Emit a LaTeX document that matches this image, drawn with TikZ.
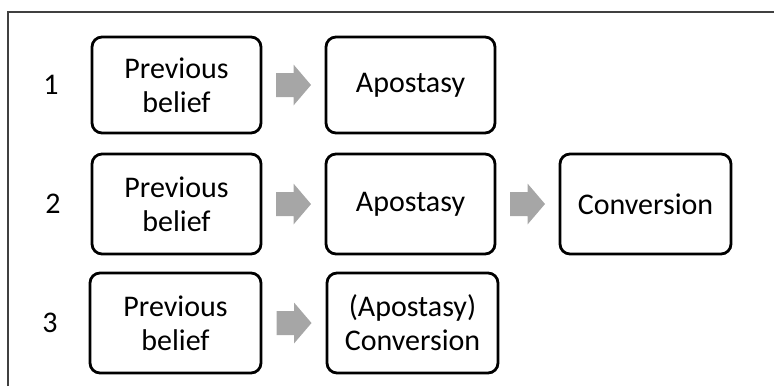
\documentclass[tikz,border=0pt]{standalone}
\usepackage{fontspec}
\setmainfont{Carlito}
\usetikzlibrary{calc}
\definecolor{framegray}{HTML}{404040}
\definecolor{arrowgray}{HTML}{A6A6A6}
\tikzset{
  stage/.style={draw=black, line width=2.8pt, rounded corners=10pt, fill=white,
    minimum width=169pt, align=center, inner sep=0pt,
    font=\fontsize{30}{34}\selectfont},
  rownum/.style={font=\fontsize{30}{34}\selectfont, inner sep=0pt},
  blockarrow/.pic={
    \fill[arrowgray] (-17.5,-12) -- (0,-12) -- (0,-20.5) -- (17.5,0)
      -- (0,20.5) -- (0,12) -- (-17.5,12) -- cycle;
  }
}
\begin{document}
\begin{tikzpicture}[x=1pt,y=-1pt]
\useasboundingbox (0,0) rectangle (774,386);
% open frame along the top and left edges
\draw[framegray, line width=2.2pt] (8,386) -- (8,12) -- (774,12);

% row 1
\node[rownum] (n1) at (51,85) {1};
\node[stage, minimum height=96pt] (a1) at (176.5,85) {Previous\\belief};
\node[stage, minimum height=96pt] (b1) at (410.5,85) {Apostasy};
\pic at ($(a1.east)!0.5!(b1.west)$) {blockarrow};

% row 2
\node[rownum] (n2) at (53,204) {2};
\node[stage, minimum height=100pt] (a2) at (176.5,204) {Previous\\belief};
\node[stage, minimum height=100pt] (b2) at (410.5,204) {Apostasy};
\node[stage, minimum height=100pt, minimum width=171pt] (c2) at (645.5,204) {Conversion};
\pic at ($(a2.east)!0.5!(b2.west)$) {blockarrow};
\pic at ($(b2.east)!0.5!(c2.west)$) {blockarrow};

% row 3
\node[rownum] (n3) at (50,323) {3};
\node[stage, minimum height=100pt, minimum width=171pt] (a3) at (175.5,323) {Previous\\belief};
\node[stage, minimum height=100pt, minimum width=171pt] (b3) at (412.5,323) {(Apostasy)\\Conversion};
\pic at ($(a3.east)!0.5!(b3.west)$) {blockarrow};
\end{tikzpicture}
\end{document}
